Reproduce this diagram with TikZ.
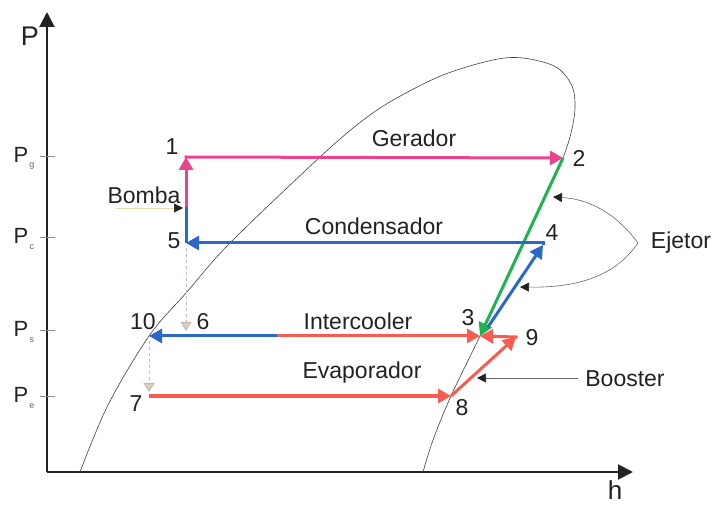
\documentclass[tikz,border=0pt]{standalone}
\usepackage{fontspec}
\setmainfont{Liberation Sans}
\usetikzlibrary{arrows.meta}
\definecolor{cpink}{RGB}{238,66,142}
\definecolor{cblue}{RGB}{44,104,200}
\definecolor{cred}{RGB}{248,92,80}
\definecolor{cgreen}{RGB}{30,178,80}
\definecolor{cdash}{RGB}{200,185,170}
\definecolor{caxis}{RGB}{34,34,34}
\begin{document}
\begin{tikzpicture}[x=1pt,y=-1pt,
  lbl/.style={font=\fontsize{23}{23}\selectfont, inner sep=0pt, text=caxis},
  plbl/.style={font=\fontsize{22}{22}\selectfont, inner sep=0pt, text=caxis},
  sublbl/.style={font=\fontsize{9}{9}\selectfont, inner sep=0pt, text=black!60},
  flow/.style={line width=3pt, -{Triangle[length=13pt,width=14pt]}},
  axisline/.style={line width=2pt, draw=caxis, -{Triangle[length=15pt,width=15pt]}},
  tick/.style={draw=black!45, line width=0.5pt},
  throttle/.style={draw=cdash, line width=0.8pt, dashed, -{Triangle[length=9pt,width=11pt,color=cdash,fill=cdash!70]}},
  pointer/.style={draw=black!60, line width=0.6pt, -{Triangle[length=9pt,width=9pt,color=caxis]}},
  dome/.style={draw=black!75, line width=0.6pt}
]
\useasboundingbox (0,0) rectangle (713,505);
% axes
\coordinate (O) at (47,472);
\coordinate (Ptop) at (47,12);
\coordinate (Hend) at (633,472);
\draw[axisline] (O) -- (Ptop);
\draw[axisline] (O) -- (Hend);
\node[font=\fontsize{27}{27}\selectfont, inner sep=0pt, text=caxis] (Plab) at (30,36) {P};
\node[font=\fontsize{26}{26}\selectfont, inner sep=0pt, text=caxis] (hlab) at (615,490) {h};
% ticks
\foreach \nm/\yy/\sb in {g/156/g, c/237/c, s/330/s, e/396/e}{
  \coordinate (t\nm a) at (40,\yy);
  \coordinate (t\nm b) at (55,\yy);
  \draw[tick] (t\nm a) -- (t\nm b);
  \node[plbl] (P\nm) at (21,\yy-1) {P};
  \node[sublbl] (S\nm) at (32,\yy+10) {\sb};
}
% saturation dome
\draw[dome] plot[smooth, tension=0.55] coordinates {
 (80,472) (108,405) (149,336) (186,293) (230,243) (320,157) (362,121)
 (395,99) (443,75) (493,60) (523,58) (556,67) (572,86) (575,108) (571,133)
 (563,158) (552,182) (530,229) (505,283) (480,336) (451,396) (433,440) (423,472)};
% state points
\coordinate (p1) at (186,157);
\coordinate (p2) at (563,158);
\coordinate (p3) at (480,336);
\coordinate (p3b) at (488,327);
\coordinate (p4) at (543,245);
\coordinate (p5) at (186,243);
\coordinate (pB) at (186,207);
\coordinate (p6) at (186,331);
\coordinate (p10) at (149,336);
\coordinate (pmid) at (277,336);
\coordinate (p7) at (149,396);
\coordinate (p7t) at (149,392);
\coordinate (p8) at (451,396);
\coordinate (p9) at (516,337);
\coordinate (p5d) at (186,248);
\coordinate (p10d) at (149,341);
% cycle lines
\draw[cblue, line width=3pt] (p5) -- (pB);
\draw[flow, cpink] (pB) -- (p1);
\draw[flow, cpink, shorten <=-1.5pt] (p1) -- (p2);
\draw[flow, cgreen] (p2) -- (p3);
\draw[flow, cblue] (p3b) -- (p4);
\draw[flow, cblue, shorten <=-1.5pt] (p4 |- p5) -- (p5);
\draw[line width=3pt, cblue] (p4 |- p5) -- (p4);
\draw[flow, cblue] (pmid) -- (p10);
\draw[flow, cred] (pmid) -- (p3);
\draw[flow, cred] (p7) -- (p8);
\draw[flow, cred] (p8) -- (p9);
\draw[flow, cred, shorten <=-1.5pt] (p9) -- (p3);
% throttling
\draw[throttle] (p5d) -- (p6);
\draw[throttle] (p10d) -- (p7t);
% point labels
\node[lbl] (n1) at (172,147) {1};
\node[lbl] (n2) at (579,158) {2};
\node[lbl] (n3) at (468,318) {3};
\node[lbl] (n4) at (552,233) {4};
\node[lbl] (n5) at (174,241) {5};
\node[lbl] (n6) at (203,322) {6};
\node[lbl] (n7) at (136,404) {7};
\node[lbl] (n8) at (462,408) {8};
\node[lbl] (n9) at (532,338) {9};
\node[lbl] (n10) at (143,322) {10};
% process labels
\node[lbl] (ger) at (414,138) {Gerador};
\node[lbl] (cond) at (374,226) {Condensador};
\node[lbl] (inter) at (358,321) {Intercooler};
\node[lbl] (evap) at (362,373) {Evaporador};
\node[lbl] (bomba) at (144,195) {Bomba};
\node[lbl] (boost) at (625,379) {Booster};
\node[lbl] (ejet) at (681,243) {Ejetor};
% pointers
\coordinate (bA) at (116,208);
\coordinate (bT) at (183,208);
\draw[pointer, draw=black!35!yellow!40!white] (bA) -- (bT);
\coordinate (boA) at (578,378);
\coordinate (boT) at (477,378);
\draw[pointer] (boA) -- (boT);
\coordinate (eA) at (638,243);
\coordinate (eT1) at (553,197);
\coordinate (eT2) at (520,287);
\draw[pointer] (eA) .. controls (615,212) and (588,199) .. (eT1);
\draw[pointer] (eA) .. controls (618,272) and (585,288) .. (eT2);
\end{tikzpicture}
\end{document}
